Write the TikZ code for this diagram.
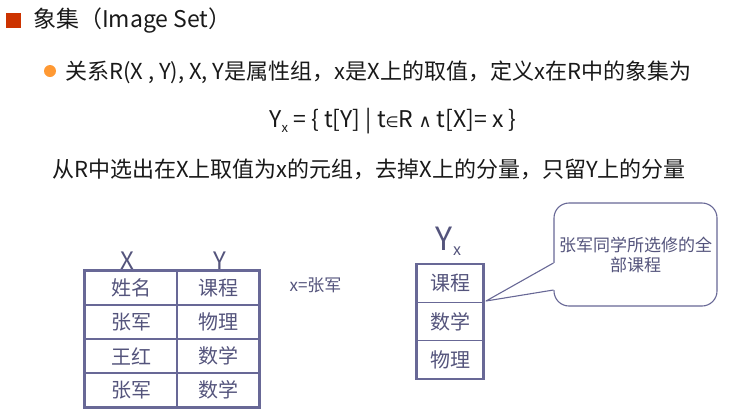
\documentclass[tikz,border=0pt]{standalone}
\usepackage{fontspec}
\setmainfont{Noto Sans CJK SC}
\newfontfamily\symfont{DejaVu Sans}
\usetikzlibrary{positioning}
\definecolor{slate}{RGB}{104,104,150}
\definecolor{slatetext}{RGB}{84,84,124}
\definecolor{titlered}{RGB}{204,51,0}
\definecolor{dotorange}{RGB}{255,153,51}
\definecolor{ink}{RGB}{25,25,25}
\newcommand{\fsz}[1]{\fontsize{#1}{#1}\selectfont}
\tikzset{
  cell/.style={draw=slate, line width=1.3pt, text=slatetext, font=\fsz{20}, minimum height=34pt, inner sep=0pt},
  frame/.style={draw=slate, line width=2.4pt},
  hdr/.style={text=slatetext, inner sep=0pt},
  bubble/.style={draw=slate, line width=1.1pt, fill=white, rounded corners=15pt, minimum width=163pt, minimum height=103pt, align=center, text=slatetext, font=\fontsize{17}{20}\selectfont, inner sep=0pt},
  txt/.style={text=ink, inner sep=0pt}
}
\begin{document}
\begin{tikzpicture}[x=1pt,y=-1pt]
\useasboundingbox (0,0) rectangle (733,413);
% title and text lines
\node[fill=titlered, minimum size=15pt, inner sep=0pt] (sq) at (13.5,20.5) {};
\node[txt, anchor=west, font=\fsz{23}] (title) at (33,21) {象集（Image Set）};
\node[circle, fill=dotorange, minimum size=12pt, inner sep=0pt] (dot) at (50,71) {};
\node[txt, anchor=west, font=\fsz{22}] (def) at (65,72) {关系R(X , Y), X, Y是属性组，x是X上的取值，定义x在R中的象集为};
\node[txt, font=\fsz{23}] (formula) at (393,121) {Y\raisebox{-5pt}{\fsz{13}x} = \{ t[Y] | t{\symfont\fsz{15}∈}R {\symfont\fsz{18}∧} t[X]= x \}};
\node[txt, font=\fsz{22}] (note2) at (369,169) {从R中选出在X上取值为x的元组，去掉X上的分量，只留Y上的分量};
% table R
\foreach \i/\a/\b in {1/姓名/课程,2/张军/物理,3/王红/数学,4/张军/数学}{
  \node[cell, minimum width=92pt] (a\i) at (131,254+34*\i) {\a};
  \node[cell, minimum width=82pt] (b\i) at (218,254+34*\i) {\b};
}
\draw[frame] (a1.north west) rectangle (b4.south east);
\node[hdr, font=\fsz{24}] (hx) at (127,261) {X};
\node[hdr, font=\fsz{24}] (hy) at (220,261) {Y};
\node[hdr, font=\fsz{17}] (xval) at (315.5,285) {x=张军};
% image set Y_x
\foreach \i/\c in {1/课程,2/数学,3/物理}{
  \node[cell, minimum width=66pt, minimum height=38pt] (y\i) at (450,245.5+38*\i) {\c};
}
\draw[frame] (y1.north west) rectangle (y3.south east);
\node[hdr, font=\fsz{32}] (hyx) at (443.5,238.5) {Y};
\node[hdr, font=\fsz{16}] (hsub) at (457,251) {x};
% callout
\node[bubble] (note) at (635.5,254.5) {张军同学所选修的全\\部课程};
\coordinate (tip) at (486,301);
\coordinate (pa) at ([yshift=-8.5pt]note.west);
\coordinate (pb) at ([yshift=-35.5pt]note.west);
\fill[white] ([xshift=-1pt]pa) -- (tip) -- ([xshift=-1pt]pb) -- ([xshift=1.5pt]pb) -- ([xshift=1.5pt]pa) -- cycle;
\draw[draw=slate, line width=1.1pt, line join=round] (pa) -- (tip) -- (pb);
\end{tikzpicture}
\end{document}
